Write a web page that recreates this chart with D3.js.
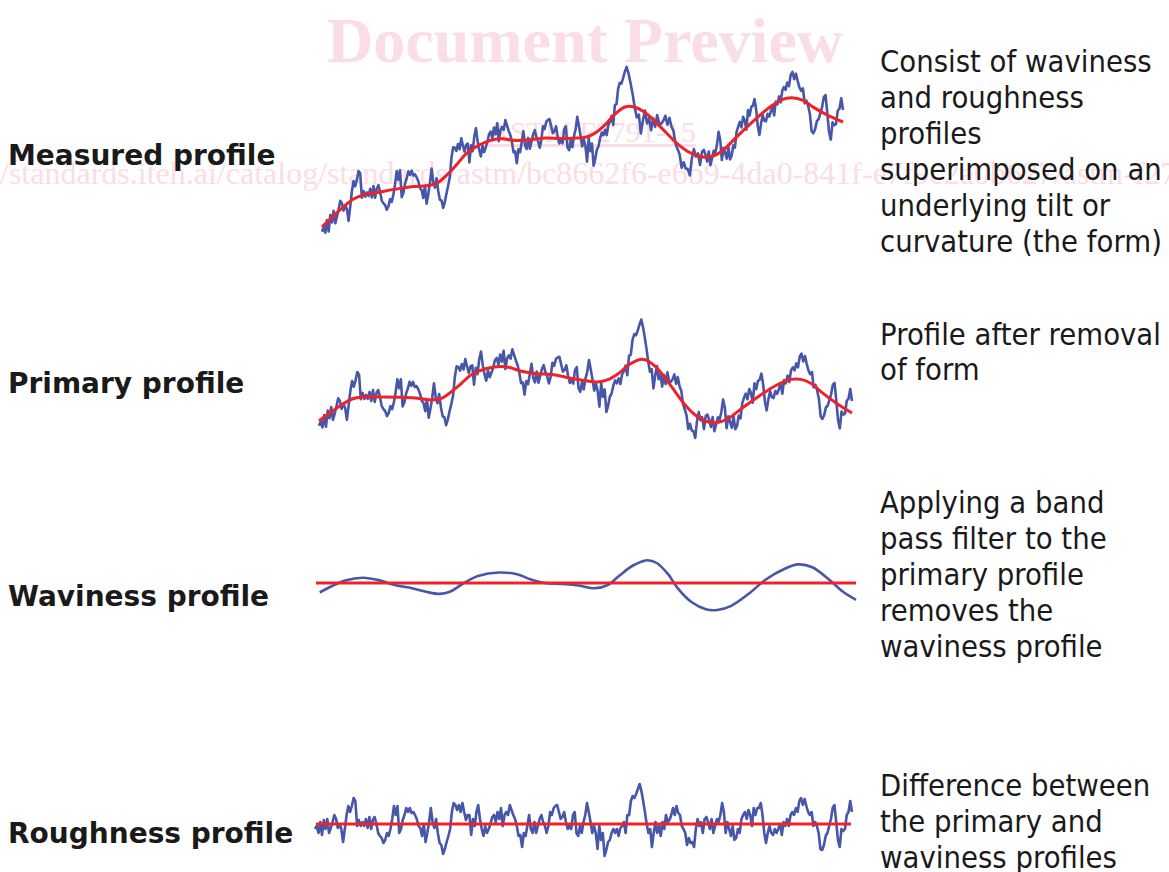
<!DOCTYPE html>
<html>
<head>
<meta charset="utf-8">
<script src="https://cdn.jsdelivr.net/npm/d3@7"></script>
<style>
  html, body { margin: 0; padding: 0; background: #fff; }
  svg { display: block; }
  .label { font-family: "DejaVu Sans", Verdana, sans-serif; font-weight: bold; font-size: 28px; fill: #1a1a1a; }
  .note { font-family: "DejaVu Sans", Verdana, sans-serif; font-size: 30px; fill: #1a1a1a; }
  .wm { font-family: "Liberation Serif", "Times New Roman", serif; fill: #fadde5; }
</style>
</head>
<body>
<svg id="chart"></svg>
<script>
// roughness trace (um), evenly spaced along the evaluation length
var roughness = [
  -5,-2,-9,2,-11,4,-5,5,-9,-4,2,9,5,-4,0,-5,-18,-5,9,18,12,18,26,23,-2,4,-2,2,-2,5,
  -4,7,-5,4,7,0,-9,-12,-14,-19,-16,-9,-12,-5,5,18,9,18,-9,-5,4,9,16,12,16,11,12,9,5,-2,
  -4,-12,0,-18,-9,2,16,2,-4,5,-9,-19,-21,-30,-25,-18,-12,-5,12,21,19,14,19,12,21,12,4,9,9,-11,
  5,-2,12,19,5,-5,-12,-2,-9,-5,0,7,9,2,12,5,16,-2,9,12,9,19,14,9,5,-2,-12,-11,-23,-9,
  -12,-2,9,-5,-9,2,-9,-2,5,9,2,-2,-9,-2,12,9,16,18,19,12,5,7,12,2,-5,-2,-5,9,12,-9,
  -12,-2,-9,2,9,21,12,2,-9,-2,-9,-25,-2,-16,-9,-32,-26,-18,-16,-9,-5,-9,-5,-12,-4,-2,2,-9,9,9,
  23,28,26,30,35,40,33,23,12,0,-9,-5,-23,-9,2,-9,-2,-12,2,-5,9,2,4,9,16,9,18,11,9,-2,
  -5,-9,-21,-14,-19,-18,-23,-5,5,-2,2,-9,5,7,2,-5,5,-9,-2,5,2,9,21,12,-9,2,-5,-12,-2,-16,
  -14,-5,-9,5,9,12,5,14,9,-2,16,9,16,16,21,9,-9,-19,-9,-2,-9,-11,-5,-9,-5,0,-11,2,-2,5,
  -2,9,12,9,16,12,23,26,19,25,18,12,9,12,-2,2,-2,-9,-25,-26,-21,-12,-9,-2,5,16,19,2,-16,-23,
  -5,-7,-5,9,12,23,12
];

// mean line of the primary profile (position in % of length, height in um)
var meanPct = [0,2.3,4.2,6.2,8.2,11.4,15.4,18,20.6,22.7,24.6,26.6,28.5,31.1,33.9,35.8,37.8,40.5,44.4,47,
  49.7,52.3,54.2,56.2,58.2,60.2,61.5,63.4,66,68.7,70.7,72.7,74.7,76.6,79.3,82.6,85.9,88.5,90.4,92.5,94.4,97,100];
var meanHeight = [-20.8,-12,-5,1,3.1,3,2.7,2,0.3,1,7.3,16,25,31,33.6,32.5,29,26.6,25,22,
  19.6,18,20.3,26.6,35.4,40.6,39.6,32,14.3,-5,-15.5,-21.5,-22.5,-19,-8.5,4,15,20.6,20.6,16,7.3,-3,-13];

// waviness profile after band pass filtering
var wavePct = [0.7,2.8,5.4,8.7,11.9,14.4,17.8,20.4,22.9,24.8,27.4,30,33.9,37.2,39.8,42.4,45.7,48.9,51.5,
  54.1,56.1,58.7,61.3,63.1,65.2,67,69.6,72.2,74.3,76.9,80.2,83.3,86.7,89.3,91.9,95,97.6,100];
var waveHeight = [-9.5,-3.5,2.5,5.3,2.5,-1.8,-5.3,-8.8,-10.9,-8.8,0,7,10.5,8.8,3.5,0,-1,-2.8,-5.3,
  -1.8,7,17.5,22.8,20,8.8,-5.3,-19.3,-26.3,-27,-22.8,-10.5,3.5,14,18.6,15.8,3.5,-8.8,-16.8];

// form (tilt) under the measured profile
var formPct = [0, 100];
var formHeight = [0, 97];

var labels = ["Measured profile", "Primary profile", "Waviness profile", "Roughness profile"];
var notes = [
  ["Consist of waviness", "and roughness", "profiles", "superimposed on an", "underlying tilt or", "curvature (the form)"],
  ["Profile after removal", "of form"],
  ["Applying a band", "pass filter to the", "primary profile", "removes the", "waviness profile"],
  ["Difference between", "the primary and", "waviness profiles"]
];

var W = 1169, H = 872;
var blue = "#4656a8", red = "#ee2229";

var svg = d3.select("#chart").attr("width", W).attr("height", H);

// watermark, behind everything
var wm = svg.append("g");
wm.append("text").attr("class", "wm").attr("x", 585).attr("y", 62)
  .attr("text-anchor", "middle").style("font-size", "64px").style("font-weight", "bold")
  .text("Document Preview");
wm.append("text").attr("class", "wm").attr("x", 592).attr("y", 142)
  .attr("text-anchor", "middle").style("font-size", "30px").style("text-decoration", "underline")
  .text("ASTM F2791-15");
wm.append("text").attr("class", "wm").attr("x", -80).attr("y", 184)
  .style("font-size", "32px")
  .text("https://standards.iteh.ai/catalog/standards/astm/bc8662f6-e6b9-4da0-841f-e7f9c2a0b627/astm-f2791-15");

var meanAt = d3.scaleLinear().domain(meanPct).range(meanHeight);
var formAt = d3.scaleLinear().domain(formPct).range(formHeight);
var roughPct = d3.scaleLinear().domain([0, roughness.length - 1]).range([0, 100]);

// the measured sketch is drawn a little unevenly along x, so it gets a piecewise scale
var panels = [
  { base: 206, xd: [0, 24.6, 60.2, 72.7, 89.5, 100], xr: [322, 447, 625, 703, 787, 843], labelY: 165, noteY: 72, step: 36 },
  { base: 400, xd: [0, 100], xr: [319, 852], labelY: 393, noteY: 345, step: 35 },
  { base: 583, xd: [0, 100], xr: [316, 856], labelY: 606, noteY: 513, step: 36 },
  { base: 824, xd: [0, 100], xr: [315, 852], labelY: 843, noteY: 796, step: 36 }
];
panels.forEach(function(p) {
  p.x = d3.scaleLinear().domain(p.xd).range(p.xr);
  p.y = d3.scaleLinear().domain([-50, 50]).range([p.base + 50, p.base - 50]);
  p.line = d3.line().x(function(d) { return p.x(d.p); }).y(function(d) { return p.y(d.h); });
});

var series = [
  {
    blue: roughness.map(function(r, i) { var q = roughPct(i); return { p: q, h: r + meanAt(q) + formAt(q) }; }),
    red: meanPct.map(function(q, j) { return { p: q, h: meanHeight[j] + formAt(q) }; })
  },
  {
    blue: roughness.map(function(r, i) { var q = roughPct(i); return { p: q, h: r + meanAt(q) }; }),
    red: meanPct.map(function(q, j) { return { p: q, h: meanHeight[j] }; })
  },
  {
    blue: wavePct.map(function(q, j) { return { p: q, h: waveHeight[j] }; }),
    red: [{ p: 0, h: 0 }, { p: 100, h: 0 }]
  },
  {
    blue: roughness.map(function(r, i) { return { p: roughPct(i), h: r }; }),
    red: [{ p: 0.2, h: 0 }, { p: 99.8, h: 0 }]
  }
];

series.forEach(function(s, k) {
  var p = panels[k];
  var g = svg.append("g").attr("class", "profile");
  var blueLine = k == 2 ? p.line.curve(d3.curveCatmullRom) : p.line.curve(d3.curveLinear);
  g.append("path").datum(s.blue).attr("d", blueLine)
    .attr("fill", "none").attr("stroke", blue).attr("stroke-width", 2.6)
    .attr("stroke-linejoin", "round");
  g.append("path").datum(s.red).attr("d", p.line.curve(d3.curveCatmullRom))
    .attr("fill", "none").attr("stroke", red).attr("stroke-width", 3);

  svg.append("text").attr("class", "label").attr("x", 8).attr("y", p.labelY).text(labels[k]);

  notes[k].forEach(function(t, j) {
    svg.append("text").attr("class", "note")
      .attr("transform", "translate(880," + (p.noteY + j * p.step) + ") scale(0.92,1)")
      .text(t);
  });
});
</script>
</body>
</html>
